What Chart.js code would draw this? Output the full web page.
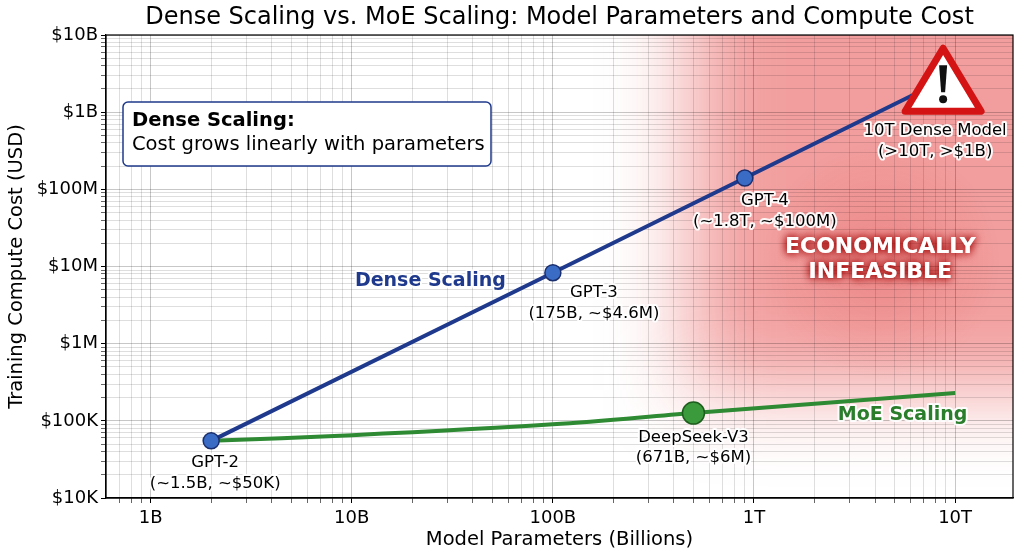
<!DOCTYPE html>
<html>
<head>
<meta charset="utf-8">
<script src="https://cdn.jsdelivr.net/npm/chart.js@4.4.1/dist/chart.umd.min.js"></script>
<style>
  html, body { margin: 0; background: #fff; }
</style>
</head>
<body>
<canvas id="costChart" width="1024" height="559"></canvas>
<script>
// model parameters in billions, cost in USD
var denseParams = [2, 100, 900, 10000];
var denseCost = [55000, 8.3e6, 1.4e8, 3.1e9];
var denseNames = ['GPT-2', 'GPT-3', 'GPT-4', '10T Dense Model'];
var denseNotes = ['(~1.5B, ~$50K)', '(175B, ~$4.6M)', '(~1.8T, ~$100M)', '(>10T, >$1B)'];

var moeParams = [2, 10, 100, 500, 10000];
var moeCost = [55000, 65000, 90000, 126000, 230000];
var moeNames = ['', '', '', 'DeepSeek-V3', ''];
var moeNotes = ['', '', '', '(671B, ~$6M)', ''];

var xTickValues = [1, 10, 100, 1000, 10000];
var xTickLabels = ['1B', '10B', '100B', '1T', '10T'];
var yTickValues = [1e4, 1e5, 1e6, 1e7, 1e8, 1e9, 1e10];
var yTickLabels = ['$10K', '$100K', '$1M', '$10M', '$100M', '$1B', '$10B'];

var TITLE = 'Dense Scaling vs. MoE Scaling: Model Parameters and Compute Cost';
var DENSE = '#1f3a8c';
var MOE = '#2f8a34';

Chart.defaults.font.family = 'DejaVu Sans';
Chart.defaults.color = '#000';

function isDecade(v) {
    var l = Math.log10(v);
    return Math.abs(l - Math.round(l)) < 1e-6;
}

function logTicks(lo, hi) {
    var out = [];
    for (var e = Math.floor(Math.log10(lo)); e <= Math.ceil(Math.log10(hi)); e++) {
        for (var m = 1; m < 10; m++) {
            var v = m * Math.pow(10, e);
            if (v >= lo * 0.9999 && v <= hi * 1.0001) out.push(v);
        }
    }
    return out;
}

function labelFor(values, labels, v) {
    for (var i = 0; i < values.length; i++) {
        if (Math.abs(values[i] - v) / values[i] < 1e-6) return labels[i];
    }
    return '';
}

function toPoints(xs, ys) {
    return xs.map(function (x, i) { return { x: x, y: ys[i] }; });
}

function haloText(ctx, text, x, y, font, color) {
    ctx.font = font;
    ctx.textAlign = 'center';
    ctx.textBaseline = 'middle';
    ctx.lineJoin = 'round';
    ctx.lineWidth = 4;
    ctx.strokeStyle = 'rgba(255,255,255,0.92)';
    ctx.strokeText(text, x, y);
    ctx.fillStyle = color;
    ctx.fillText(text, x, y);
}

var X_MIN = 0.63, X_MAX = 19400;

// red "infeasible" zone, drawn under the grid
var zonePlugin = {
    id: 'zone',
    beforeDraw: function (chart) {
        var ctx = chart.ctx, a = chart.chartArea;
        var xs = chart.scales.x, ys = chart.scales.y;
        var x0 = xs.getPixelForValue(480);
        var y1 = ys.getPixelForValue(2.5e5);
        ctx.save();
        ctx.beginPath();
        ctx.rect(a.left, a.top, a.right - a.left, a.bottom - a.top);
        ctx.clip();
        ctx.filter = 'blur(42px)';
        ctx.fillStyle = 'rgba(232,78,78,0.55)';
        ctx.fillRect(x0, a.top - 140, a.right + 160 - x0, y1 - a.top + 140);
        ctx.filter = 'none';
        var cx = xs.getPixelForValue(4300), cy = ys.getPixelForValue(1.2e7);
        var g = ctx.createRadialGradient(cx, cy, 0, cx, cy, 120);
        g.addColorStop(0, 'rgba(215,50,50,0.2)');
        g.addColorStop(1, 'rgba(215,50,50,0)');
        ctx.fillStyle = g;
        ctx.fillRect(cx - 130, cy - 130, 260, 260);
        ctx.restore();
    }
};

var notesPlugin = {
    id: 'notes',
    afterDatasetsDraw: function (chart) {
        var ctx = chart.ctx, a = chart.chartArea;
        var xs = chart.scales.x, ys = chart.scales.y;
        ctx.save();

        // title centred over the plot area
        ctx.font = '24px DejaVu Sans';
        ctx.textAlign = 'center';
        ctx.textBaseline = 'middle';
        ctx.fillStyle = '#000';
        ctx.fillText(TITLE, (a.left + a.right) / 2, 18);

        // frame
        ctx.strokeStyle = '#000';
        ctx.lineWidth = 1.2;
        ctx.strokeRect(a.left, a.top, a.right - a.left, a.bottom - a.top);

        // warning sign at the end of the dense line
        var dm = chart.getDatasetMeta(0).data;
        var end = dm[dm.length - 1];
        var px = end.x, py = end.y;
        ctx.beginPath();
        ctx.moveTo(px - 12, py - 26);
        ctx.lineTo(px + 26, py + 37);
        ctx.lineTo(px - 50, py + 37);
        ctx.closePath();
        ctx.fillStyle = '#fff';
        ctx.fill();
        ctx.lineJoin = 'round';
        ctx.lineWidth = 7;
        ctx.strokeStyle = '#d41414';
        ctx.stroke();
        ctx.fillStyle = '#111';
        ctx.beginPath();
        ctx.moveTo(px - 16, py - 9);
        ctx.lineTo(px - 8, py - 9);
        ctx.lineTo(px - 10, py + 18);
        ctx.lineTo(px - 14, py + 18);
        ctx.closePath();
        ctx.fill();
        ctx.beginPath();
        ctx.arc(px - 12, py + 25, 4, 0, Math.PI * 2);
        ctx.fill();

        // point labels
        var offs = [[4, 22], [41, 20], [20, 23], [-20, 56]];
        var lab = '16.5px DejaVu Sans';
        dm.forEach(function (pt, i) {
            haloText(ctx, denseNames[i], pt.x + offs[i][0], pt.y + offs[i][1], lab, '#000');
            haloText(ctx, denseNotes[i], pt.x + offs[i][0], pt.y + offs[i][1] + 21, lab, '#000');
        });
        var mm = chart.getDatasetMeta(1).data;
        mm.forEach(function (pt, i) {
            if (!moeNames[i]) return;
            haloText(ctx, moeNames[i], pt.x, pt.y + 25, lab, '#000');
            haloText(ctx, moeNotes[i], pt.x, pt.y + 45, lab, '#000');
        });

        // series names
        haloText(ctx, 'Dense Scaling', xs.getPixelForValue(24.6), ys.getPixelForValue(6.5e6), 'bold 19px DejaVu Sans', DENSE);
        haloText(ctx, 'MoE Scaling', xs.getPixelForValue(5480), ys.getPixelForValue(1.18e5), 'bold 19px DejaVu Sans', '#2a7d2a');

        // infeasible text
        var ex = xs.getPixelForValue(4250), ey = ys.getPixelForValue(1.78e7);
        ctx.font = 'bold 22px DejaVu Sans';
        ctx.textAlign = 'center';
        ctx.textBaseline = 'middle';
        ctx.shadowColor = 'rgba(160,0,0,0.95)';
        ctx.shadowBlur = 9;
        ctx.fillStyle = '#fff';
        for (var k = 0; k < 2; k++) {
            ctx.fillText('ECONOMICALLY', ex, ey);
            ctx.fillText('INFEASIBLE', ex, ey + 25);
        }
        ctx.shadowBlur = 0;
        ctx.shadowColor = 'transparent';

        // annotation box
        var bx = a.left + 17, by = a.top + 67, bw = 368, bh = 64;
        ctx.beginPath();
        ctx.roundRect(bx, by, bw, bh, 5);
        ctx.fillStyle = '#fff';
        ctx.fill();
        ctx.lineWidth = 1.5;
        ctx.strokeStyle = DENSE;
        ctx.stroke();
        ctx.textAlign = 'left';
        ctx.fillStyle = '#000';
        ctx.font = 'bold 19.5px DejaVu Sans';
        ctx.fillText('Dense Scaling:', bx + 9, by + 19);
        ctx.font = '19.5px DejaVu Sans';
        ctx.fillText('Cost grows linearly with parameters', bx + 9, by + 43);

        ctx.restore();
    }
};

var ctx = document.getElementById('costChart');
var costChart = new Chart(ctx, {
    type: 'line',
    data: {
        datasets: [
            {
                label: 'Dense Scaling',
                data: toPoints(denseParams, denseCost),
                borderColor: DENSE,
                borderWidth: 4,
                tension: 0,
                pointRadius: [8, 8, 8, 0],
                pointBackgroundColor: '#3a6cc6',
                pointBorderColor: '#1b2f6e',
                pointBorderWidth: 1.5
            },
            {
                label: 'MoE Scaling',
                data: toPoints(moeParams, moeCost),
                borderColor: MOE,
                borderWidth: 4,
                tension: 0.35,
                pointRadius: [0, 0, 0, 11, 0],
                pointBackgroundColor: '#3b9a3b',
                pointBorderColor: '#1d5e1d',
                pointBorderWidth: 1.5
            }
        ]
    },
    options: {
        responsive: false,
        animation: false,
        layout: { padding: { top: 35, right: 11, left: 0, bottom: 0 } },
        plugins: {
            legend: { display: false },
            tooltip: { enabled: false }
        },
        scales: {
            x: {
                type: 'logarithmic',
                min: X_MIN,
                max: X_MAX,
                afterBuildTicks: function (s) {
                    s.ticks = logTicks(X_MIN, X_MAX).map(function (v) { return { value: v }; });
                },
                afterFit: function (s) { s.height = 61; },
                ticks: {
                    autoSkip: false,
                    maxRotation: 0,
                    padding: 5,
                    font: { size: 18 },
                    callback: function (v) { return labelFor(xTickValues, xTickLabels, v); }
                },
                grid: {
                    color: function (c) { return isDecade(c.tick.value) ? 'rgba(0,0,0,0.22)' : 'rgba(0,0,0,0.13)'; },
                    tickColor: '#000',
                    tickWidth: function (c) { return isDecade(c.tick.value) ? 1 : 0.6; },
                    tickLength: 5
                },
                border: { color: '#000', width: 1.2 },
                title: {
                    display: true,
                    text: 'Model Parameters (Billions)',
                    font: { size: 19.5 },
                    padding: { top: 0, bottom: 7 }
                }
            },
            y: {
                type: 'logarithmic',
                min: 1e4,
                max: 1e10,
                afterBuildTicks: function (s) {
                    s.ticks = logTicks(1e4, 1e10).map(function (v) { return { value: v }; });
                },
                afterFit: function (s) { s.width = 106; },
                ticks: {
                    autoSkip: false,
                    padding: 3,
                    font: { size: 18 },
                    callback: function (v) { return labelFor(yTickValues, yTickLabels, v); }
                },
                grid: {
                    color: function (c) { return isDecade(c.tick.value) ? 'rgba(0,0,0,0.22)' : 'rgba(0,0,0,0.13)'; },
                    tickColor: '#000',
                    tickWidth: function (c) { return isDecade(c.tick.value) ? 1 : 0.6; },
                    tickLength: 5
                },
                border: { color: '#000', width: 1.2 },
                title: {
                    display: true,
                    text: 'Training Compute Cost (USD)',
                    font: { size: 19.5 },
                    padding: { top: 5, bottom: 0 }
                }
            }
        }
    },
    plugins: [zonePlugin, notesPlugin]
});
</script>
</body>
</html>
